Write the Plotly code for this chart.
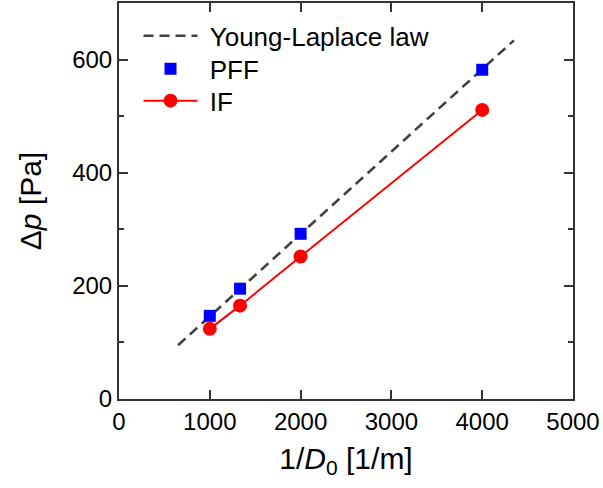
import plotly.graph_objects as go

# Data
yl_x = [650, 4350]          # Young-Laplace law line endpoints (1/m)
yl_y = [95, 634]            # Pa
pff_x = [1000, 1333, 2000, 4000]
pff_y = [147, 195, 292, 582]
if_x = [1000, 1333, 2000, 4000]
if_y = [124, 165, 252, 511]

x_ticks = [0, 1000, 2000, 3000, 4000, 5000]
y_ticks = [0, 200, 400, 600]

FONT = "Liberation Sans, Arial, sans-serif"
AX = "#333333"
PAD = "\u00a0"

fig = go.Figure()
fig.add_trace(go.Scatter(x=yl_x, y=yl_y, mode="lines", name=PAD + "Young-Laplace law",
                         legend="legend",
                         line=dict(color="#404040", width=2.5, dash="10px,6px")))
fig.add_trace(go.Scatter(x=pff_x, y=pff_y, mode="markers", name=PAD + "PFF",
                         legend="legend2",
                         marker=dict(symbol="square", size=12, color="#0000FF")))
fig.add_trace(go.Scatter(x=if_x, y=if_y, mode="lines+markers", name=PAD + "IF",
                         legend="legend3",
                         line=dict(color="#FF0000", width=2),
                         marker=dict(symbol="circle", size=14, color="#FF0000")))

leg_common = dict(xanchor="left", yanchor="middle", bgcolor="rgba(0,0,0,0)",
                  font=dict(size=26, family=FONT, color="black"), itemwidth=54)
x_leg = 0.043
fig.update_layout(
    width=603, height=488,
    margin=dict(l=119, r=30, t=1, b=89),
    paper_bgcolor="white", plot_bgcolor="white",
    font=dict(family=FONT, color="black"),
    showlegend=True,
    legend=dict(x=x_leg, y=1 - 33 / 397, **leg_common),
    legend2=dict(x=x_leg, y=1 - 66 / 397, **leg_common),
    legend3=dict(x=x_leg, y=1 - 98 / 397, **leg_common),
)
fig.update_xaxes(
    range=[0, 5000], tickvals=x_ticks, ticktext=[str(v) for v in x_ticks],
    showgrid=False, zeroline=False,
    showline=True, linecolor=AX, linewidth=2, mirror="ticks",
    ticks="inside", ticklen=9, tickwidth=2, tickcolor=AX,
    tickfont=dict(size=24, family=FONT, color="black"),
    title=dict(text="1/<i>D</i><sub>0</sub> [1/m]", font=dict(size=30, family=FONT), standoff=14),
)
fig.update_yaxes(
    range=[0, 700], tickvals=y_ticks, ticktext=[str(v) for v in y_ticks],
    showgrid=False, zeroline=False,
    showline=True, linecolor=AX, linewidth=2, mirror="ticks",
    ticks="inside", ticklen=9, tickwidth=2, tickcolor=AX,
    tickfont=dict(size=24, family=FONT, color="black"),
    minor=dict(tickvals=[100, 300, 500], ticks="inside", ticklen=5, tickwidth=2, tickcolor=AX),
    title=dict(text="Δ<i>p</i> [Pa]", font=dict(size=30, family=FONT), standoff=22),
)

fig.write_html("out.html")
